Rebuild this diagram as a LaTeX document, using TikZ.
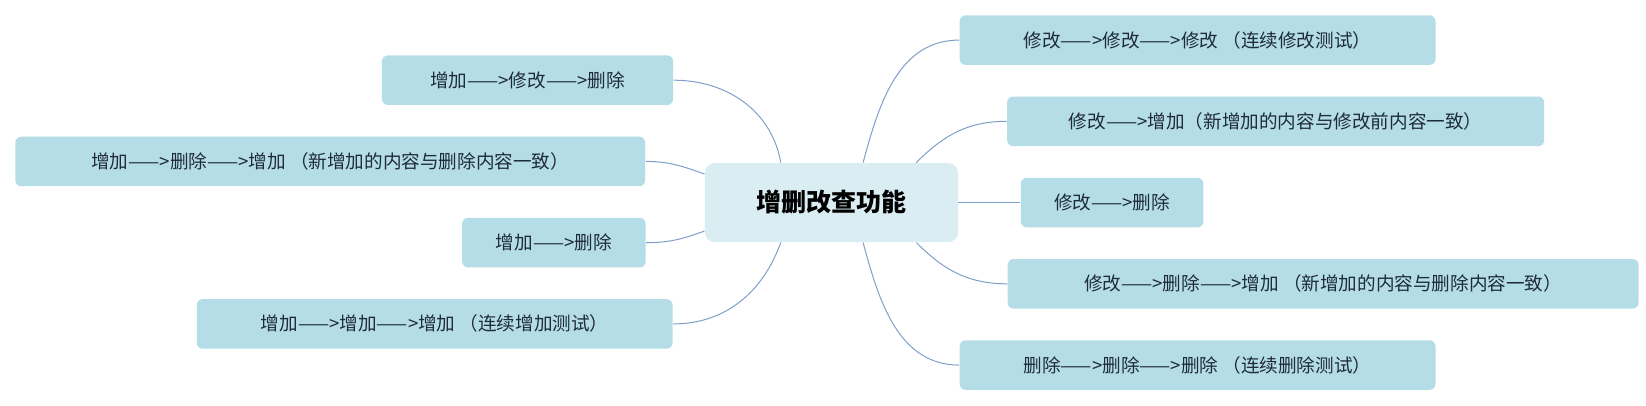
\documentclass[tikz,border=0pt]{standalone}
\usepackage{fontspec}
\setmainfont{Noto Sans CJK SC}
\usetikzlibrary{calc}
\definecolor{nodefill}{HTML}{B4DDE8}
\definecolor{cfill}{HTML}{D9EDF3}
\definecolor{linec}{HTML}{7F9FCB}
\definecolor{txt}{HTML}{1E2B38}
\tikzset{
  leaf/.style={fill=nodefill, rounded corners=3pt, minimum height=47*0.5275pt, inner sep=0pt, font=\fontsize{9.3pt}{11pt}\selectfont, text=txt},
  root/.style={fill=cfill, rounded corners=5pt, minimum width=240*0.5275pt, minimum height=75*0.5275pt, font=\fontsize{12.5pt}{14pt}\selectfont\bfseries, text=black},
  conn/.style={draw=linec, line width=0.5pt}
}
\begin{document}
\begin{tikzpicture}[x=0.5275pt, y=-0.5275pt]
\useasboundingbox (0,0) rectangle (1560,384);
\node[root] (c) at (788,192) {增删改查功能};
\node[leaf, minimum width=276*0.5275pt] (l1) at (500,76) {增加——>修改——>删除};
\node[leaf, minimum width=597*0.5275pt] (l2) at (313,153) {增加——>删除——>增加 （新增加的内容与删除内容一致）};
\node[leaf, minimum width=174*0.5275pt] (l3) at (525,230) {增加——>删除};
\node[leaf, minimum width=451*0.5275pt] (l4) at (412,307) {增加——>增加——>增加 （连续增加测试）};
\node[leaf, minimum width=451*0.5275pt] (r1) at (1135,38) {修改——>修改——>修改 （连续修改测试）};
\node[leaf, minimum width=509*0.5275pt] (r2) at (1209,115) {修改——>增加（新增加的内容与修改前内容一致）};
\node[leaf, minimum width=173*0.5275pt] (r3) at (1054,192) {修改——>删除};
\node[leaf, minimum width=598*0.5275pt] (r4) at (1254,269) {修改——>删除——>增加 （新增加的内容与删除内容一致）};
\node[leaf, minimum width=451*0.5275pt] (r5) at (1135,346) {删除——>删除——>删除 （连续删除测试）};
\coordinate (tl) at ($(c.north)+(-48,0)$);
\coordinate (tr) at ($(c.north)+(30,0)$);
\coordinate (bl) at ($(c.south)+(-48,0)$);
\coordinate (br) at ($(c.south)+(30,0)$);
\coordinate (tr2) at ($(c.north east)+(-40,0)$);
\coordinate (br2) at ($(c.south east)+(-40,0)$);
\coordinate (lu) at ($(c.west)+(0,-27)$);
\coordinate (ld) at ($(c.west)+(0,27)$);
\draw[conn] (tl) to[out=-100+200,in=0] (l1.east);
\draw[conn] (lu) to[out=160,in=0] (l2.east);
\draw[conn] (ld) to[out=200,in=0] (l3.east);
\draw[conn] (bl) to[out=-110,in=0] (l4.east);
\draw[conn] (tr) to[out=75,in=180] (r1.west);
\draw[conn] (tr2) to[out=45,in=180] (r2.west);
\draw[conn] (c.east) -- (r3.west);
\draw[conn] (br2) to[out=-45,in=180] (r4.west);
\draw[conn] (br) to[out=-75,in=180] (r5.west);
\end{tikzpicture}
\end{document}
